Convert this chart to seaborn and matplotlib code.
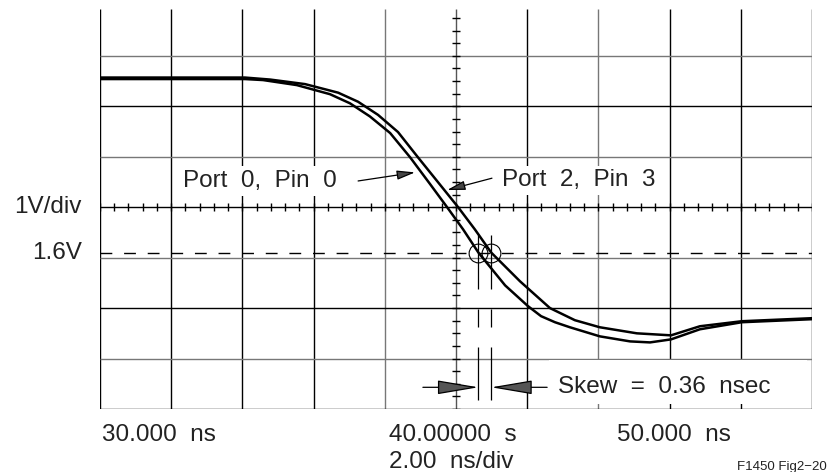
import numpy as np
import matplotlib
matplotlib.use("Agg")
import matplotlib.pyplot as plt
from matplotlib.patches import Rectangle
import seaborn as sns

# --- data (time in ns, level in V) ---
port0_t = [30.00, 34.07, 34.58, 35.53, 36.46, 37.02, 37.58, 38.15, 38.71, 39.27,
           39.75, 40.20, 40.63, 41.38, 42.02, 42.39, 42.78, 43.20, 44.04, 44.89,
           45.45, 46.04, 46.85, 48.03, 50.00]
port0_v = [5.04, 5.04, 5.02, 4.92, 4.74, 4.56, 4.30, 3.97, 3.49, 2.96,
           2.50, 2.06, 1.60, 0.95, 0.54, 0.34, 0.22, 0.12, -0.06, -0.16,
           -0.18, -0.12, 0.08, 0.22, 0.28]

port2_t = [30.00, 34.07, 34.78, 35.76, 36.69, 37.25, 37.81, 38.37, 38.93, 39.49,
           40.06, 40.53, 40.99, 41.80, 42.64, 43.34, 44.04, 45.08, 46.04, 46.85,
           48.03, 50.00]
port2_v = [5.07, 5.07, 5.03, 4.94, 4.77, 4.59, 4.33, 3.99, 3.49, 3.00,
           2.50, 2.06, 1.60, 1.03, 0.50, 0.26, 0.12, 0.00, -0.04, 0.14,
           0.24, 0.30]

threshold_v = 1.6
cross_t = [40.63, 40.99]          # threshold crossings, skew = 0.36 ns
skew_label = "Skew  =  0.36  nsec"

x_range = (30.0, 50.0)            # 2 ns/div
y_range = (-1.5, 6.5)             # 1 V/div, centre 2.5 V
x_div = np.arange(30.0, 50.01, 2.0)
y_div = np.arange(-1.5, 6.51, 1.0)[:-1]

sns.set_style("white")
plt.rcParams["font.family"] = ["Liberation Sans", "DejaVu Sans"]

fig = plt.figure(figsize=(8.32, 4.72), dpi=100)
ax = fig.add_axes([100 / 832, 63 / 472, 712 / 832, 403.6 / 472])
ax.set_xlim(*x_range)
ax.set_ylim(*y_range)
ax.axis("off")

# graticule
top = 6.43
v_cols = ["k", "k", "k", "k", "#777", "#555", "k", "#777", "k", "k", "k"]
for t, c in zip(x_div, v_cols):
    ax.vlines(t, y_range[0], top, color=c, lw=1.0, zorder=1)
h_cols = ["k", "#777", "k", "#777", "k", "#777", "k", "#777"]
for v, c in zip(y_div, h_cols):
    ax.hlines(v, *x_range, color=c, lw=1.0, zorder=1)

# minor ticks on centre axes
ax.vlines(np.arange(30.0, 50.01, 0.4), 2.42, 2.58, color="k", lw=1.0, zorder=1)
ax.hlines(np.arange(-1.5, 6.3, 0.25), 39.874, 40.126, color="k", lw=1.0, zorder=1)

# threshold line
ax.plot(x_range, [threshold_v, threshold_v], color="k", lw=1.0,
        dashes=(8.5, 8.5), zorder=2)

# traces
for t, v in [(port0_t, port0_v), (port2_t, port2_v)]:
    sns.lineplot(x=t, y=v, color="k", lw=1.8, sort=False, estimator=None,
                 ax=ax, zorder=4)

# crossing markers
ax.plot(cross_t, [threshold_v] * 2, "o", mfc="none", mec="k", ms=13.5,
        mew=0.8, zorder=5)
for y0, y1 in [(1.95, 0.88), (0.48, 0.12), (-0.28, -1.33)]:
    ax.vlines(cross_t, y1, y0, color="k", lw=0.9, zorder=5)

# labels with white masks
txt = dict(fontsize=17.5, color="#222", va="center", ha="left", zorder=3,
           bbox=dict(facecolor="white", edgecolor="none",
                     boxstyle="square,pad=0.15"))
ax.text(32.33, 3.02, "Port  0,  Pin  0", **txt)
ax.text(41.29, 3.03, "Port  2,  Pin  3", **txt)

ax.add_patch(Rectangle((42.6, -1.41), 7.25, 0.88, fc="white", ec="none", zorder=2))
ax.text(42.87, -1.07, skew_label, fontsize=17.5, color="#222", va="center",
        ha="left", zorder=3)

arrow = dict(arrowstyle="-|>,head_length=0.55,head_width=0.14",
             color="k", fc="#444", lw=0.9, mutation_scale=20, shrinkA=0, shrinkB=0)
ax.annotate("", xy=(38.85, 3.19), xytext=(37.25, 3.02), arrowprops=arrow, zorder=6)
ax.annotate("", xy=(39.75, 2.84), xytext=(41.01, 3.075), arrowprops=arrow, zorder=6)

skew_arrow = dict(arrowstyle="-|>,head_length=1.3,head_width=0.22",
                  color="k", fc="#555", lw=0.9, mutation_scale=20,
                  shrinkA=0, shrinkB=0)
ax.annotate("", xy=(cross_t[0], -1.07), xytext=(39.07, -1.07),
            arrowprops=skew_arrow, zorder=6)
ax.annotate("", xy=(cross_t[1], -1.07), xytext=(42.56, -1.07),
            arrowprops=skew_arrow, zorder=6)

# outside annotations
lab = dict(fontsize=17.5, color="#222", va="center", clip_on=False)
ax.text(29.49, 2.5, "1V/div", ha="right", **lab)
ax.text(29.49, threshold_v, "1.6V", ha="right", **lab)
ax.text(30.05, -2.02, "30.000  ns", ha="left", **lab)
ax.text(38.12, -2.02, "40.00000  s", ha="left", **lab)
ax.text(38.12, -2.55, "2.00  ns/div", ha="left", **lab)
ax.text(44.52, -2.02, "50.000  ns", ha="left", **lab)
ax.text(50.42, -2.64, "F1450 Fig2\u221220", ha="right", fontsize=9.5,
        color="#222", va="center", clip_on=False)

fig.savefig("out.png", dpi=100)
